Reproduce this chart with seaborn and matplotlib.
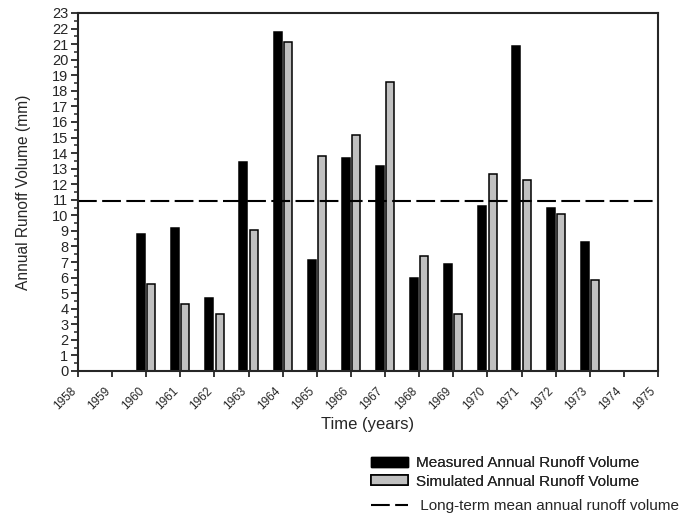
import numpy as np
import pandas as pd
import matplotlib
matplotlib.use('Agg')
import matplotlib.pyplot as plt
import matplotlib.transforms as mtransforms
import seaborn as sns
from matplotlib.patches import Patch
from matplotlib.lines import Line2D
from matplotlib.ticker import MultipleLocator, AutoMinorLocator

sns.set_style('ticks')
plt.rcParams['font.family'] = ['Liberation Sans', 'DejaVu Sans']

# data
years = list(range(1958, 1976))
data_years = list(range(1960, 1974))
measured = [8.8, 9.17, 4.69, 13.43, 21.77, 7.13, 13.69, 13.17, 5.98, 6.88, 10.62, 20.89, 10.48, 8.29]
simulated = [5.57, 4.29, 3.64, 9.04, 21.12, 13.8, 15.19, 18.55, 7.37, 3.64, 12.64, 12.26, 10.09, 5.85]
long_term_mean = 10.93

df = pd.DataFrame({
    'year': [str(y) for y in data_years] * 2,
    'series': ['Measured'] * len(data_years) + ['Simulated'] * len(data_years),
    'value': measured + simulated,
})

fig = plt.figure(figsize=(6.91, 5.13), dpi=100)
ax = fig.add_axes([78 / 691, 1 - 371 / 513, 580 / 691, 358 / 513])

sns.barplot(data=df, x='year', y='value', hue='series',
            order=[str(y) for y in years], hue_order=['Measured', 'Simulated'],
            palette={'Measured': 'black', 'Simulated': '#c0c0c0'},
            edgecolor='black', linewidth=1.1, width=0.6, gap=0.22,
            saturation=1, legend=False, ax=ax)

dash = (0, (9, 2.6))
ax.axhline(long_term_mean, color='black', lw=1.5, linestyle=dash)

ax.set_xlim(0, 17)
ax.set_ylim(0, 23)
ax.yaxis.set_major_locator(MultipleLocator(1))
ax.yaxis.set_minor_locator(AutoMinorLocator(2))
for s in ax.spines.values():
    s.set_linewidth(1.5)
ax.tick_params(axis='y', which='major', length=5, width=1.3, labelsize=10.5, pad=2)
ax.tick_params(axis='y', which='minor', length=3, width=1.1)
ax.tick_params(axis='x', length=4.5, width=1.3, labelsize=8.5, pad=2)

# year labels sit down-left of their tick
shift = mtransforms.ScaledTranslation(-0.04, -0.09, fig.dpi_scale_trans)
for lab in ax.get_xticklabels():
    lab.set_rotation(45)
    lab.set_horizontalalignment('right')
    lab.set_verticalalignment('center')
    lab.set_rotation_mode('anchor')
    lab.set_transform(lab.get_transform() + shift)

ax.set_xlabel('Time (years)', fontsize=12)
ax.xaxis.set_label_coords(0.5, -0.128)
ax.set_ylabel('Annual Runoff Volume (mm)', fontsize=11.2, labelpad=15)

leg1 = fig.legend(handles=[
    Patch(facecolor='black', edgecolor='black', label='Measured Annual Runoff Volume'),
    Patch(facecolor='#c0c0c0', edgecolor='black', linewidth=1.2, label='Simulated Annual Runoff Volume'),
], loc='upper left', bbox_to_anchor=(371 / 691, 1 - 456 / 513),
    frameon=False, fontsize=11, handlelength=2.4, handleheight=0.65,
    handletextpad=0.55, labelspacing=0.3, borderpad=0, borderaxespad=0)
fig.add_artist(leg1)
fig.legend(handles=[
    Line2D([0], [0], color='black', lw=1.5, linestyle=dash, label=' Long-term mean annual runoff volume'),
], loc='upper left', bbox_to_anchor=(371 / 691, 1 - 499 / 513),
    frameon=False, fontsize=11, handlelength=2.4,
    handletextpad=0.55, borderpad=0, borderaxespad=0)

fig.savefig('out.png', dpi=100)
